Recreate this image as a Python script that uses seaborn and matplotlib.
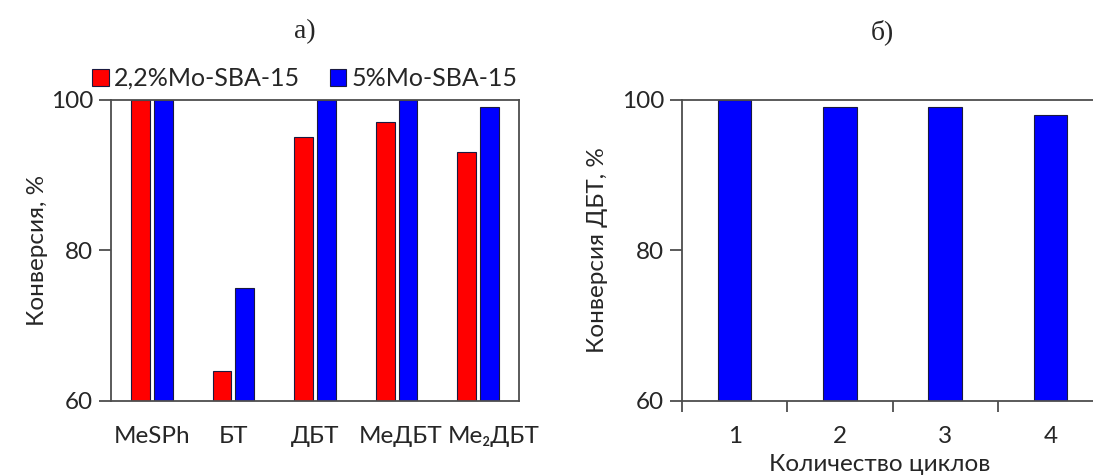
import pandas as pd
import numpy as np
import matplotlib
matplotlib.use("Agg")
import matplotlib.pyplot as plt
import matplotlib.transforms as mtransforms
import seaborn as sns

# panel a) conversion of sulfur compounds
compounds = ["MeSPh", "БТ", "ДБТ", "MeДБТ", "Me₂ДБТ"]
catalysts = ["2,2%Mo-SBA-15", "5%Mo-SBA-15"]
conv_22 = [100, 64, 95, 97, 93]
conv_5 = [100, 75, 100, 100, 99]

# panel б) DBT conversion over reuse cycles
cycles = ["1", "2", "3", "4"]
conv_cycles = [100, 99, 99, 98]

RED = "#ff0000"
BLUE = "#0000ff"
EDGE = "#1a1a40"
SPINE = "#4d4d4d"

sns.set_theme(style="white")
plt.rcParams["font.family"] = ["Lato", "DejaVu Sans"]
plt.rcParams["axes.edgecolor"] = SPINE
plt.rcParams["axes.linewidth"] = 1.3

df_a = pd.DataFrame({
    "compound": compounds * 2,
    "catalyst": [catalysts[0]] * len(compounds) + [catalysts[1]] * len(compounds),
    "conv": conv_22 + conv_5,
})
df_b = pd.DataFrame({"cycle": cycles, "conv": conv_cycles})

fig = plt.figure(figsize=(10.93, 4.76), dpi=100)
ax1 = fig.add_axes([111 / 1093, 75 / 476, 408 / 1093, 301.5 / 476])
ax2 = fig.add_axes([682 / 1093, 75 / 476, 421 / 1093, 301.5 / 476])

fs = 17.5

# --- panel a
sns.barplot(data=df_a, x="compound", y="conv", hue="catalyst", ax=ax1,
            palette=[RED, BLUE], width=0.56, gap=0.18, saturation=1,
            edgecolor=EDGE, linewidth=0.8, errorbar=None)
ax1.set_ylim(60, 100)
ax1.set_xlim(-0.5, len(compounds) - 0.5)
ax1.set_yticks([60, 80, 100])
ax1.set_xlabel("")
ax1.set_ylabel("Конверсия, %", fontsize=fs, labelpad=2)
ax1.tick_params(axis="y", direction="out", length=9, width=1.3, color=SPINE,
                labelsize=fs, pad=4, left=True)
ax1.tick_params(axis="x", length=0, labelsize=fs, pad=18)
# the last labels sit a bit to the right in the original figure
shifts = [0, 0, 0, 4, 15]
for lbl, dx in zip(ax1.get_xticklabels(), shifts):
    lbl.set_transform(lbl.get_transform() +
                      mtransforms.ScaledTranslation(dx / 100, 0, fig.dpi_scale_trans))
for s in ax1.spines.values():
    s.set_visible(True)
    s.set_color(SPINE)
leg = ax1.legend(loc="lower center", bbox_to_anchor=(0.475, 0.99), ncol=2,
                 frameon=False, fontsize=fs + 0.5, handlelength=0.65, handleheight=0.65,
                 handletextpad=0.2, columnspacing=1.2, borderaxespad=0.1)
for h in leg.legend_handles:
    h.set_edgecolor(EDGE)

# --- panel б
sns.barplot(data=df_b, x="cycle", y="conv", ax=ax2, color=BLUE, width=0.32,
            edgecolor=EDGE, linewidth=0.8, errorbar=None, saturation=1)
ax2.set_ylim(60, 100)
ax2.set_xlim(-0.5, len(cycles) - 0.5)
ax2.set_yticks([60, 80, 100])
ax2.set_xticks(np.arange(len(cycles) + 1) - 0.5, minor=True)
ax2.set_xlabel("Количество циклов", fontsize=fs)
ax2.xaxis.set_label_coords(0.47, -0.175)
ax2.set_ylabel("Конверсия ДБТ, %", fontsize=fs, labelpad=10)
ax2.tick_params(axis="y", direction="out", length=9, width=1.3, color=SPINE,
                labelsize=fs, pad=4, left=True)
ax2.tick_params(axis="x", which="major", length=0, labelsize=fs, pad=18)
ax2.tick_params(axis="x", which="minor", direction="out", length=8, width=1.3,
                color=SPINE, bottom=True)
for s in ax2.spines.values():
    s.set_visible(True)
    s.set_color(SPINE)

fig.text(305 / 1093, 1 - 32 / 476, "а)", fontsize=20, family="Liberation Serif",
         ha="center", va="center")
fig.text(882 / 1093, 1 - 32 / 476, "б)", fontsize=20, family="Liberation Serif",
         ha="center", va="center")

fig.savefig("out.png", dpi=100, facecolor="white")
